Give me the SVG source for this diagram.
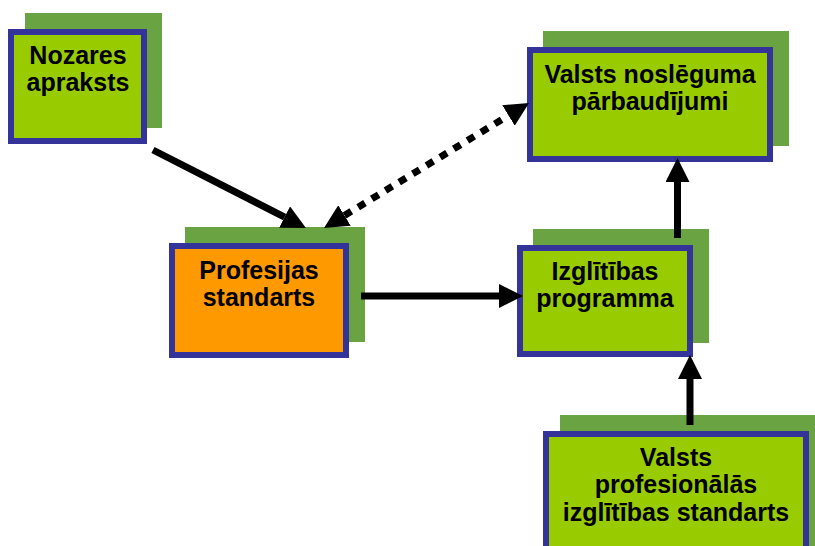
<svg xmlns="http://www.w3.org/2000/svg" width="815" height="546" viewBox="0 0 815 546">
<style>
.sh{fill:#6AA342;stroke:none}
.bx{fill:#99CC00;stroke:#333399;stroke-width:6}
.or{fill:#FF9900;stroke:#333399;stroke-width:6}
.t{font-family:"Liberation Sans",Arial,sans-serif;font-weight:bold;font-size:25px;fill:#000;text-anchor:middle}
.ln{stroke:#000;stroke-width:7;fill:none}
.dot{stroke:#000;stroke-width:7;fill:none;stroke-dasharray:8 8}
</style>
<defs>
<marker id="ah" markerUnits="userSpaceOnUse" markerWidth="24" markerHeight="24" refX="0" refY="12" orient="auto" viewBox="0 0 24 24">
<path d="M0,0 L24,12 L0,24 Z" fill="#000"/>
</marker>
<marker id="ahs" markerUnits="userSpaceOnUse" markerWidth="24" markerHeight="24" refX="24" refY="12" orient="auto" viewBox="0 0 24 24">
<path d="M24,0 L0,12 L24,24 Z" fill="#000"/>
</marker>
</defs>
<g id="nozares">
<rect class="sh" x="25" y="13" width="137" height="115"/>
<rect class="bx" x="11" y="32" width="133" height="109"/>
<text class="t" x="78" y="64">Nozares</text>
<text class="t" x="78" y="91">apraksts</text>
</g>
<g id="valsts-nosleguma">
<rect class="sh" x="543" y="31" width="246" height="115"/>
<rect class="bx" x="530" y="50" width="240" height="109"/>
<text class="t" x="650" y="83">Valsts noslēguma</text>
<text class="t" x="650" y="110">pārbaudījumi</text>
</g>
<g id="profesijas">
<rect class="sh" x="185" y="227" width="180" height="115"/>
<rect class="or" x="172" y="246" width="174" height="109"/>
<text class="t" x="259" y="279">Profesijas</text>
<text class="t" x="259" y="306">standarts</text>
</g>
<g id="izglitibas">
<rect class="sh" x="533" y="229" width="176" height="114"/>
<rect class="bx" x="520" y="248" width="170" height="106"/>
<text class="t" x="605" y="280">Izglītības</text>
<text class="t" x="605" y="307">programma</text>
</g>
<g id="valsts-prof">
<rect class="sh" x="560" y="415" width="266" height="150"/>
<rect class="bx" x="546" y="434" width="260" height="130"/>
<text class="t" x="676" y="466">Valsts</text>
<text class="t" x="676" y="493">profesionālās</text>
<text class="t" x="676" y="521">izglītības standarts</text>
</g>
<g id="connectors">
<path class="ln" d="M153,150 L284.6,217.1" marker-end="url(#ah)"/>
<path class="dot" d="M344.5,215.5 L508.5,115.5" marker-start="url(#ahs)" marker-end="url(#ah)"/>
<path class="ln" d="M361,296 L499,296" marker-end="url(#ah)"/>
<path class="ln" d="M677.5,238 L677.5,182" marker-end="url(#ah)"/>
<path class="ln" d="M690,425 L690,379" marker-end="url(#ah)"/>
</g>
</svg>
